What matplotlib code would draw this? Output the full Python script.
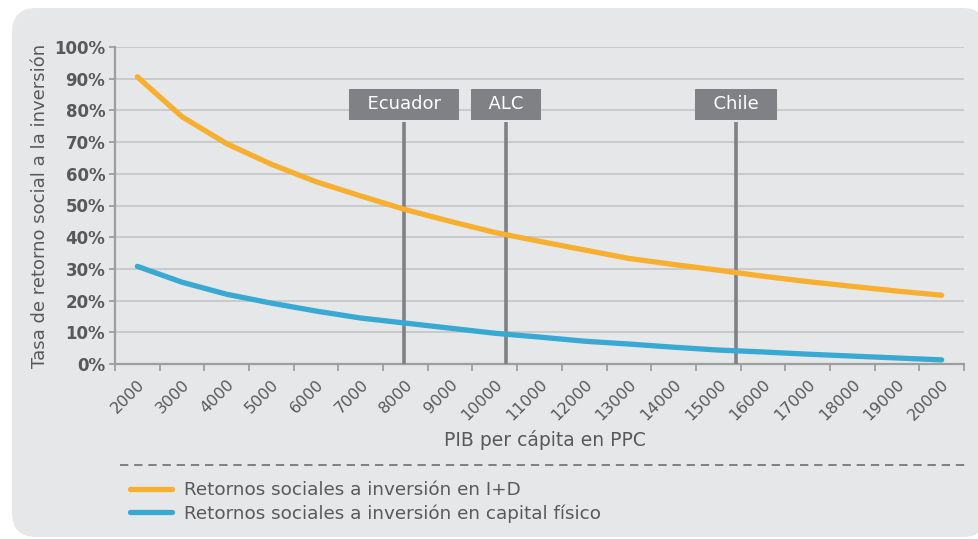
import matplotlib

matplotlib.use("Agg")
import matplotlib.pyplot as plt
import numpy as np
from matplotlib.lines import Line2D
from matplotlib.patches import FancyBboxPatch

plt.rcParams["font.family"] = ["DejaVu Sans"]

# categories on the x axis (PIB per cápita en PPC)
gdp = [2000, 3000, 4000, 5000, 6000, 7000, 8000, 9000, 10000, 11000,
       12000, 13000, 14000, 15000, 16000, 17000, 18000, 19000, 20000]
rd_returns = [90.6, 78.0, 69.5, 63.0, 57.5, 53.0, 48.7, 45.0, 41.5, 38.7,
              36.0, 33.3, 31.4, 29.6, 27.7, 26.0, 24.5, 23.0, 21.7]
capital_returns = [30.8, 25.8, 22.0, 19.2, 16.7, 14.5, 12.9, 11.3, 9.7, 8.5,
                   7.2, 6.3, 5.3, 4.4, 3.8, 3.1, 2.5, 1.9, 1.3]

# country markers, given as GDP per capita
markers = ["Ecuador", "ALC", "Chile"]
marker_gdp = [7970, 10250, 15400]

ORANGE = "#F6AF2F"
BLUE = "#37A9D2"
TEXT = "#58595B"
GRID = "#C6C7C9"
MARK = "#808184"
BG = "#E6E7E8"

fig = plt.figure(figsize=(9.79, 5.39), dpi=100)
fig.patch.set_facecolor("white")

# rounded grey panel behind everything
panel = FancyBboxPatch((12 / 979, 2 / 539), 975 / 979, 529 / 539,
                       boxstyle="round,pad=0,rounding_size=0.025",
                       transform=fig.transFigure, fc=BG, ec="none",
                       mutation_aspect=979 / 539, zorder=-10)
fig.patches.append(panel)

ax = fig.add_axes([115 / 979, 175 / 539, 849 / 979, 317 / 539])
ax.set_facecolor("none")

x = np.arange(len(gdp))
ax.plot(x, rd_returns, color=ORANGE, lw=3.8, solid_capstyle="round",
        label="Retornos sociales a inversión en I+D", zorder=4)
ax.plot(x, capital_returns, color=BLUE, lw=3.8, solid_capstyle="round",
        label="Retornos sociales a inversión en capital físico", zorder=4)

ax.set_xlim(-0.5, len(gdp) - 0.5)
ax.set_ylim(0, 100)

# vertical reference lines with labelled boxes
box_bottom, box_mid = 76.4, 82.0
for name, g in zip(markers, marker_gdp):
    xi = np.interp(g, gdp, x)
    ax.plot([xi, xi], [0, box_bottom], color=MARK, lw=2.6, zorder=3,
            solid_capstyle="butt")
    ax.text(xi, box_mid, f"  {name}  ", ha="center",
            va="center", color="white", fontsize=13, zorder=5,
            bbox=dict(boxstyle="square,pad=0.36", fc=MARK, ec="none"))

yt = np.arange(0, 101, 10)
ax.set_yticks(yt)
ax.set_yticklabels([f"{v}%" for v in yt], fontsize=12, color=TEXT,
                   fontweight="semibold")
ax.yaxis.grid(True, color=GRID, lw=1.3)
ax.set_axisbelow(True)

ax.set_xticks(np.arange(len(gdp) + 1) - 0.5)
ax.set_xticklabels([])
ax.set_xticks(x, minor=True)
ax.set_xticklabels([str(g) for g in gdp], minor=True, rotation=45,
                   ha="right", va="top", rotation_mode="anchor",
                   fontsize=11.5, color=TEXT)
ax.tick_params(axis="x", which="major", length=5, width=1.3, color="#9D9EA0")
ax.tick_params(axis="x", which="minor", length=0, pad=9)
ax.tick_params(axis="y", length=4, width=1.3, color="#9D9EA0", pad=3)

for side in ("top", "right"):
    ax.spines[side].set_visible(False)
for side in ("left", "bottom"):
    ax.spines[side].set_color("#9D9EA0")
    ax.spines[side].set_linewidth(1.6)

ax.set_ylabel("Tasa de retorno social a la inversión", fontsize=13,
              color=TEXT, labelpad=4)

fig.text(545 / 979, 1 - 440 / 539, "PIB per cápita en PPC", ha="center",
         va="center", fontsize=13.5, color=TEXT)

fig.add_artist(Line2D([120 / 979, 965 / 979], [1 - 465 / 539] * 2,
                      transform=fig.transFigure, color="#6D6E71", lw=1.2,
                      dashes=(5, 3.5)))

fig.legend(loc="center left", bbox_to_anchor=(130 / 979, 1 - 502 / 539),
           frameon=False, fontsize=13.2, labelcolor=TEXT, handlelength=2.3,
           handletextpad=0.65, labelspacing=0.25, borderpad=0,
           borderaxespad=0)

fig.savefig("out.png", dpi=100, facecolor=fig.get_facecolor())
